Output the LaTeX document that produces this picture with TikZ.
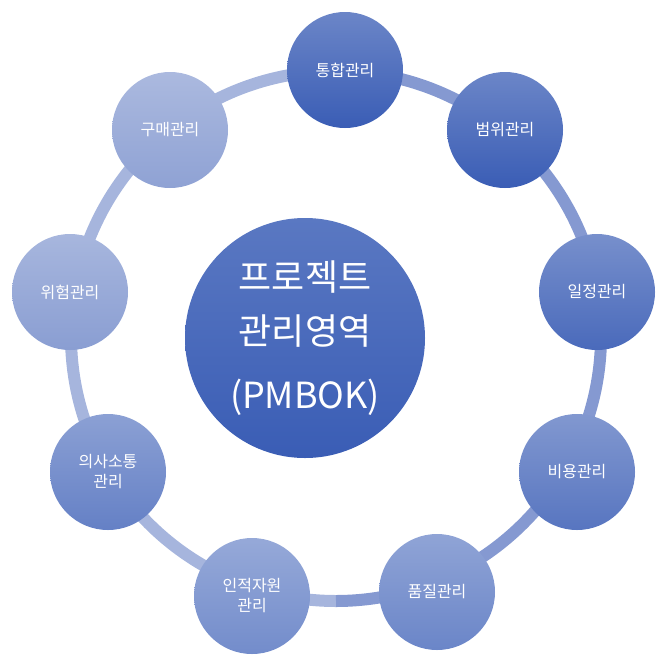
\documentclass[tikz,border=0pt]{standalone}
\usepackage{fontspec}
\setmainfont{Noto Sans CJK KR}
\begin{document}
\begin{tikzpicture}[x=1pt,y=-1pt,
  sat/.style={circle,minimum size=116pt,inner sep=0pt,text=white,font=\fontsize{16}{20}\selectfont,align=center,top color=#1!75!white,bottom color=#1},
  sat/.default={blue}]
\useasboundingbox (0,0) rectangle (672,656);
\definecolor{c1}{HTML}{3A5DB5}
\definecolor{c2}{HTML}{5A78C2}
\definecolor{c3}{HTML}{8FA2D4}
\definecolor{ringL}{HTML}{A6B5DD}
\definecolor{ringR}{HTML}{8599D1}
\draw[line width=12pt,color=ringL] (336,601) arc[start angle=90,end angle=270,radius=265];
\draw[line width=12pt,color=ringR] (336,71) arc[start angle=-90,end angle=90,radius=265];
\node[circle,minimum size=240pt,inner sep=0pt,top color=c2,bottom color=c1,text=white,align=center,font=\fontsize{36}{54}\selectfont] (center) at (305,338) {프로젝트\\관리영역\\[10pt](PMBOK)};
\node[sat=c1] (a) at (345,70) {통합관리};
\node[sat=c1] (b) at (505,130) {범위관리};
\node[sat=c1!92!white] (c) at (597,292) {일정관리};
\node[sat=c1!85!white] (d) at (577,472) {비용관리};
\node[sat=c2!90!white] (e) at (437,592) {품질관리};
\node[sat=c2!85!white] (f) at (252,596) {인적자원\\관리};
\node[sat=c2!80!c3] (g) at (108,472) {의사소통\\관리};
\node[sat=c3!90!c2] (h) at (70,292) {위험관리};
\node[sat=c3] (i) at (170,130) {구매관리};
\end{tikzpicture}
\end{document}
